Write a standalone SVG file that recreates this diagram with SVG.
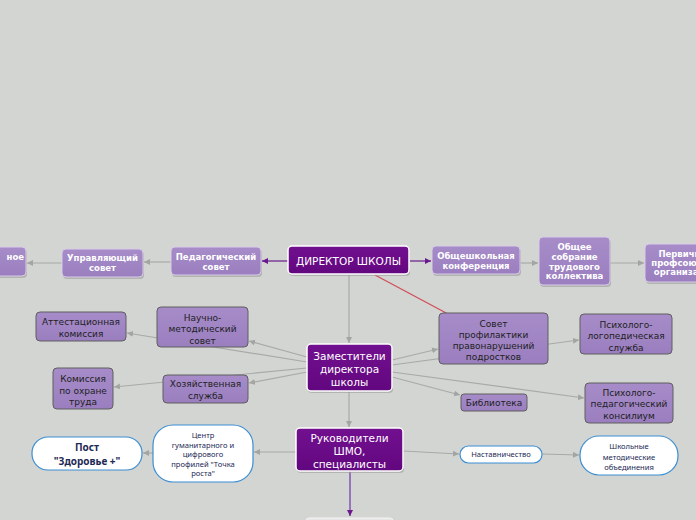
<svg xmlns="http://www.w3.org/2000/svg" width="696" height="520" viewBox="0 0 696 520">
<defs>
<linearGradient id="gDark" x1="0" y1="0" x2="0" y2="1"><stop offset="0" stop-color="#72108f"/><stop offset="1" stop-color="#62077f"/></linearGradient>
<linearGradient id="gLight" x1="0" y1="0" x2="0" y2="1"><stop offset="0" stop-color="#a78cc9"/><stop offset="1" stop-color="#9a7ebf"/></linearGradient>
<marker id="aG" markerUnits="userSpaceOnUse" markerWidth="8" markerHeight="8" refX="6" refY="3" orient="auto"><path d="M0,0 L6,3 L0,6 Z" fill="#a3a5a3"/></marker>
<marker id="aP" markerUnits="userSpaceOnUse" markerWidth="8" markerHeight="8" refX="6" refY="3" orient="auto"><path d="M0,0 L6,3 L0,6 Z" fill="#6a1a8c"/></marker>
</defs>
<style>
.c{stroke:#a8aaa8;stroke-width:1.2;fill:none;marker-end:url(#aG)}
.cp{stroke:#6a1a8c;stroke-width:1.2;fill:none;marker-end:url(#aP)}
.dark rect.b{fill:url(#gDark);stroke:#ffffff;stroke-width:1.5}
.top rect.b{fill:url(#gLight);stroke:#d8cce6;stroke-width:1}
.sec rect.b{fill:url(#gLight);stroke:#5e5e5e;stroke-width:1}
.sh{fill:#9a9c9a;opacity:0.6}
.pill rect{fill:#ffffff;stroke:#3c8ed4;stroke-width:1.2}
.tw{font-family:"DejaVu Sans",Verdana,sans-serif;font-size:10.5px;fill:#ffffff;text-anchor:middle}
.tb{font-family:"DejaVu Sans",Verdana,sans-serif;font-size:8.5px;font-weight:bold;fill:#ffffff;text-anchor:middle}
.td{font-family:"DejaVu Sans",Verdana,sans-serif;font-size:9px;fill:#1e1e1e;text-anchor:middle}
.tn{font-family:"Noto Sans","Liberation Sans",sans-serif;font-size:7.6px;fill:#1d2a55;text-anchor:middle}
.tnb{font-family:"Noto Sans","Liberation Sans",sans-serif;font-size:10px;font-weight:bold;fill:#1d2a55;text-anchor:middle}
</style>
<rect width="696" height="520" fill="#d3d5d2"/>
<g id="connectors">
<line class="cp" x1="288" y1="261" x2="262" y2="261"/>
<line class="c" x1="171" y1="262" x2="144" y2="262"/>
<line class="c" x1="62" y1="263" x2="27" y2="263"/>
<line class="cp" x1="410" y1="261" x2="431" y2="261"/>
<line class="c" x1="520" y1="263" x2="538" y2="263"/>
<line class="c" x1="610" y1="263" x2="644" y2="263"/>
<line class="c" x1="349" y1="274" x2="349" y2="343"/>
<line x1="375" y1="275" x2="448" y2="314" stroke="#d24b58" stroke-width="1.2"/>
<line class="c" x1="307" y1="357" x2="249" y2="341"/>
<line class="c" x1="307" y1="362" x2="127" y2="333"/>
<line class="c" x1="307" y1="372" x2="249" y2="383"/>
<line class="c" x1="307" y1="368" x2="114" y2="387"/>
<line class="c" x1="392" y1="360" x2="438" y2="349"/>
<line class="c" x1="392" y1="365" x2="579" y2="340"/>
<line class="c" x1="392" y1="372" x2="584" y2="398"/>
<line class="c" x1="392" y1="377" x2="460" y2="395"/>
<line class="c" x1="349" y1="391" x2="349" y2="427"/>
<line class="c" x1="296" y1="452" x2="254" y2="452"/>
<line class="c" x1="153" y1="453" x2="143" y2="453"/>
<line class="c" x1="403" y1="451" x2="459" y2="454"/>
<line class="c" x1="542" y1="454" x2="579" y2="455"/>
<line x1="350" y1="471" x2="350" y2="516" stroke="#8a5cb4" stroke-width="1.6" marker-end="url(#aP)"/>
</g>
<g id="n-left" class="top"><rect class="sh" x="-59" y="249" width="86" height="29" rx="4"/><rect class="b" x="-60" y="247" width="86" height="29" rx="4"/><text class="tb" x="24" y="260" style="text-anchor:end">ное</text></g>
<g id="n-upr" class="top"><rect class="sh" x="63" y="251" width="81" height="28" rx="4"/><rect class="b" x="62" y="249" width="81" height="28" rx="4"/><text class="tb" x="102.5" y="261">Управляющий</text><text class="tb" x="102.5" y="271">совет</text></g>
<g id="n-ped" class="top"><rect class="sh" x="172" y="249" width="90" height="28" rx="4"/><rect class="b" x="171" y="247" width="90" height="28" rx="4"/><text class="tb" x="216" y="259.5">Педагогический</text><text class="tb" x="216" y="269.5">совет</text></g>
<g id="n-dir" class="dark"><rect class="sh" x="289" y="248" width="121" height="28" rx="4"/><rect class="b" x="288" y="246" width="121" height="28" rx="4"/><text class="tw" x="348.5" y="264.5">ДИРЕКТОР ШКОЛЫ</text></g>
<g id="n-conf" class="top"><rect class="sh" x="433" y="248" width="88" height="28" rx="4"/><rect class="b" x="432" y="246" width="88" height="28" rx="4"/><text class="tb" x="476" y="259">Общешкольная</text><text class="tb" x="476" y="268.5">конференция</text></g>
<g id="n-sobr" class="top"><rect class="sh" x="540" y="239" width="71" height="48" rx="4"/><rect class="b" x="539" y="237" width="71" height="48" rx="4"/><text class="tb" x="574.5" y="250">Общее</text><text class="tb" x="574.5" y="260">собрание</text><text class="tb" x="574.5" y="269.5">трудового</text><text class="tb" x="574.5" y="279">коллектива</text></g>
<g id="n-prof" class="top"><rect class="sh" x="646" y="246" width="80" height="38" rx="4"/><rect class="b" x="645" y="244" width="80" height="38" rx="4"/><text class="tb" x="685" y="257">Первичная</text><text class="tb" x="685" y="266">профсоюзная</text><text class="tb" x="685" y="275">организация</text></g>
<g id="n-zam" class="dark"><rect class="sh" x="308" y="346" width="85" height="47" rx="4"/><rect class="b" x="307" y="344" width="85" height="47" rx="4"/><text class="tw" x="349.5" y="360">Заместители</text><text class="tw" x="349.5" y="373">директора</text><text class="tw" x="349.5" y="386">школы</text></g>
<g id="n-nms" class="sec"><rect class="b" x="157" y="307" width="91" height="40" rx="4"/><text class="td" x="202.5" y="320.5">Научно-</text><text class="td" x="202.5" y="332">методический</text><text class="td" x="202.5" y="343.5">совет</text></g>
<g id="n-att" class="sec"><rect class="b" x="36" y="312" width="90" height="29" rx="4"/><text class="td" x="81" y="325">Аттестационная</text><text class="td" x="81" y="336.5">комиссия</text></g>
<g id="n-hoz" class="sec"><rect class="b" x="163" y="375" width="85" height="28" rx="4"/><text class="td" x="205.5" y="386.5">Хозяйственная</text><text class="td" x="205.5" y="398.5">служба</text></g>
<g id="n-kom" class="sec"><rect class="b" x="53" y="368" width="60" height="41" rx="4"/><text class="td" x="83" y="381.5">Комиссия</text><text class="td" x="83" y="393.5">по охране</text><text class="td" x="83" y="404.5">труда</text></g>
<g id="n-sovet" class="sec"><rect class="b" x="439" y="313" width="109" height="51" rx="4"/><text class="td" x="493.5" y="326.5">Совет</text><text class="td" x="493.5" y="337.5">профилактики</text><text class="td" x="493.5" y="348.5">правонарушений</text><text class="td" x="493.5" y="360">подростков</text></g>
<g id="n-bibl" class="sec"><rect class="b" x="461" y="394" width="66" height="17" rx="3"/><text class="td" x="494" y="406">Библиотека</text></g>
<g id="n-pslog" class="sec"><rect class="b" x="580" y="314" width="92" height="40" rx="4"/><text class="td" x="626" y="328">Психолого-</text><text class="td" x="626" y="339">логопедическая</text><text class="td" x="626" y="350.5">служба</text></g>
<g id="n-psped" class="sec"><rect class="b" x="585" y="383" width="88" height="40" rx="4"/><text class="td" x="629" y="395.5">Психолого-</text><text class="td" x="629" y="407">педагогический</text><text class="td" x="629" y="418.5">консилиум</text></g>
<g id="n-ruk" class="dark"><rect class="sh" x="297" y="430" width="107" height="43" rx="4"/><rect class="b" x="296" y="428" width="107" height="43" rx="4"/><text class="tw" x="349.5" y="442">Руководители</text><text class="tw" x="349.5" y="455">ШМО,</text><text class="tw" x="349.5" y="467.5">специалисты</text></g>
<g id="n-centr" class="pill"><rect x="153" y="425" width="100" height="57" rx="20"/><text class="tn" x="203" y="438">Центр</text><text class="tn" x="203" y="448">гуманитарного и</text><text class="tn" x="203" y="457">цифрового</text><text class="tn" x="203" y="467">профилей "Точка</text><text class="tn" x="203" y="476">роста"</text></g>
<g id="n-post" class="pill"><rect x="32" y="437" width="110" height="33" rx="16"/><text class="tnb" x="87" y="451">Пост</text><text class="tnb" x="87" y="465">"Здоровье +"</text></g>
<g id="n-nast" class="pill"><rect x="460" y="446" width="82" height="17" rx="8.5"/><text class="tn" x="501" y="457">Наставничество</text></g>
<g id="n-shmo" class="pill"><rect x="580" y="436" width="98" height="39" rx="19"/><text class="tn" x="629" y="449">Школьные</text><text class="tn" x="629" y="459.5">методические</text><text class="tn" x="629" y="470">объединения</text></g>
<g id="n-bottom"><rect x="306" y="518" width="87" height="20" rx="3" fill="#e6e6e6" stroke="#f4f4f4" stroke-width="1"/></g>
</svg>
